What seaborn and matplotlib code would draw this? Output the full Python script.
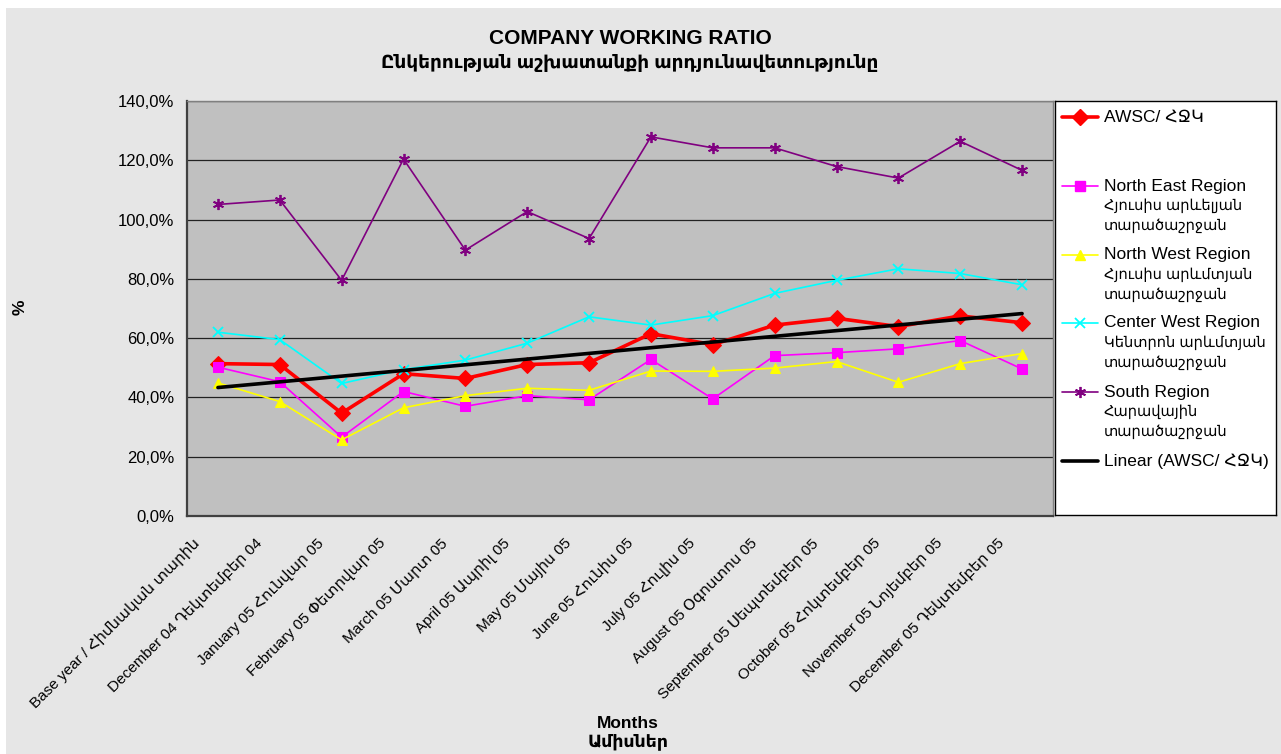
import numpy as np
import pandas as pd
import matplotlib
matplotlib.use("Agg")
import matplotlib.pyplot as plt
import seaborn as sns
from matplotlib.patches import Rectangle
from matplotlib.ticker import FuncFormatter, MultipleLocator, FixedLocator
from matplotlib.transforms import ScaledTranslation

MONTHS = [
    "Base year / Հիմնական տարին",
    "December 04 Դեկտեմբեր 04",
    "January 05 Հունվար 05",
    "February 05 Փետրվար 05",
    "March 05 Մարտ 05",
    "April 05 Ապրիլ 05",
    "May 05 Մայիս 05",
    "June 05 Հունիս 05",
    "July 05 Հուլիս 05",
    "August 05 Օգոստոս 05",
    "September 05 Սեպտեմբեր 05",
    "October 05 Հոկտեմբեր 05",
    "November 05 Նոյեմբեր 05",
    "December 05 Դեկտեմբեր 05",
]

AWSC = [51.4, 51.1, 34.7, 48.0, 46.4, 51.1, 51.7, 61.5, 57.8, 64.4, 66.7, 63.9, 67.5, 65.2]
NORTH_EAST = [50.2, 45.3, 26.6, 42.0, 37.0, 40.6, 39.2, 52.8, 39.5, 54.1, 55.1, 56.4, 59.2, 49.6]
NORTH_WEST = [44.9, 38.6, 25.7, 36.5, 40.6, 43.1, 42.4, 48.9, 48.8, 49.9, 52.1, 45.1, 51.4, 54.8]
CENTER_WEST = [62.0, 59.5, 44.7, 49.4, 52.6, 58.3, 67.2, 64.4, 67.6, 75.1, 79.5, 83.4, 81.8, 78.0]
SOUTH = [105.1, 106.6, 79.5, 120.4, 89.7, 102.7, 93.6, 127.9, 124.2, 124.2, 117.9, 114.0, 126.4, 116.6]

LEGEND_LINES = [
    ["AWSC/ ՀՋԿ"],
    ["North East Region", "Հյուսիս արևելյան", "տարածաշրջան"],
    ["North West Region", "Հյուսիս արևմտյան", "տարածաշրջան"],
    ["Center West Region", "Կենտրոն արևմտյան", "տարածաշրջան"],
    ["South Region", "Հարավային", "տարածաշրջան"],
    ["Linear (AWSC/ ՀՋԿ)"],
]

W, H = 1281, 754

sns.set_theme(style="white")
plt.rcParams["font.family"] = ["Liberation Sans", "DejaVu Sans"]
plt.rcParams.update({"text.color": "black", "axes.labelcolor": "black",
                     "xtick.color": "black", "ytick.color": "black"})

fig = plt.figure(figsize=(W / 100, H / 100), dpi=100, facecolor="white")
fig.add_artist(Rectangle((6 / W, 0), 1, 1 - 8 / H, transform=fig.transFigure,
                         facecolor="#e6e6e6", edgecolor="none", zorder=-5))

ax = fig.add_axes([187 / W, 1 - 516 / H, (1053 - 187) / W, (516 - 101) / H])
ax.set_facecolor("#c0c0c0")

pos = np.arange(len(MONTHS))
styles = [
    (AWSC, dict(color="#ff0000", marker="D", markersize=8.5, linewidth=2.6)),
    (NORTH_EAST, dict(color="#ff00ff", marker="s", markersize=6.5, linewidth=1.2)),
    (NORTH_WEST, dict(color="#ffff00", marker="^", markersize=7.5, linewidth=1.2)),
    (CENTER_WEST, dict(color="#00ffff", marker="x", markersize=7, markeredgewidth=1.3, linewidth=1.2)),
    (SOUTH, dict(color="#800080", marker=(6, 2, 0), markersize=8, markeredgewidth=1.3, linewidth=1.2)),
]
for vals, kw in styles:
    sns.lineplot(x=pos, y=vals, ax=ax, legend=False, markeredgecolor=kw["color"], **kw)

# linear trend of AWSC (like the Excel trendline)
coef = np.polyfit(pos + 1, AWSC, 1)
trend = np.polyval(coef, pos + 1)
sns.lineplot(x=pos, y=trend, ax=ax, color="black", linewidth=2.6, legend=False)

ax.set_xlim(-0.5, len(MONTHS) - 0.5)
ax.set_ylim(0, 140)
ax.yaxis.set_major_locator(MultipleLocator(20))
ax.yaxis.set_major_formatter(FuncFormatter(lambda v, p: f"{v:.1f}%".replace(".", ",")))
ax.grid(axis="y", color="#222222", linewidth=0.9)
ax.set_axisbelow(True)

ax.set_xticks(pos)
ax.set_xticklabels(MONTHS, rotation=45, ha="right", va="center", rotation_mode="anchor", fontsize=11)
ax.xaxis.set_minor_locator(FixedLocator(np.arange(-0.5, len(MONTHS), 1)))
ax.tick_params(axis="x", which="major", length=0, pad=18)
ax.tick_params(axis="x", which="minor", length=6, width=1, color="#333333", direction="out")
ax.tick_params(axis="y", length=6, width=1, color="#333333", direction="out", labelsize=12, pad=3)
offset = ScaledTranslation(-0.2, 0, fig.dpi_scale_trans)
for lab in ax.get_xticklabels():
    lab.set_transform(lab.get_transform() + offset)
    lab.set_color("black")
for lab in ax.get_yticklabels():
    lab.set_color("black")

for side in ["left", "bottom"]:
    ax.spines[side].set_color("#404040")
    ax.spines[side].set_linewidth(1.6)
for side in ["top", "right"]:
    ax.spines[side].set_color("#808080")
    ax.spines[side].set_linewidth(1.0)
ax.set_xlabel("")
ax.set_ylabel("")

fig.text(630 / W, 1 - 38 / H, "COMPANY WORKING RATIO", ha="center", va="center",
         fontsize=15, fontweight="bold")
fig.text(630 / W, 1 - 63 / H, "Ընկերության աշխատանքի արդյունավետությունը", ha="center",
         va="center", fontsize=13.3, fontweight="bold")
fig.text(20 / W, 1 - 307 / H, "%", ha="center", va="center", rotation=90,
         fontsize=12.5, fontweight="bold")
fig.text(628 / W, 1 - 733 / H, "Months\nԱմիսներ", ha="center", va="center",
         fontsize=12.5, fontweight="bold", linespacing=1.15)

# legend box drawn by hand so the handle sits on the first line of each label
lax = fig.add_axes([1055 / W, 1 - 515 / H, 221 / W, 414 / H])
lax.set_xlim(0, 221)
lax.set_ylim(414, 0)
lax.set_facecolor("white")
lax.set_xticks([])
lax.set_yticks([])
for sp in lax.spines.values():
    sp.set_color("black")
    sp.set_linewidth(1.0)

entry_y = [16, 85, 154, 222, 291, 360]
handles = [kw for _, kw in styles] + [dict(color="black", linewidth=2.6)]
for y0, lines, kw in zip(entry_y, LEGEND_LINES, handles):
    lax.plot([7, 43], [y0, y0], color=kw["color"], linewidth=kw["linewidth"])
    if "marker" in kw:
        lax.plot([25], [y0], linestyle="none", marker=kw["marker"], markersize=kw["markersize"],
                 color=kw["color"], markeredgecolor=kw["color"],
                 markeredgewidth=kw.get("markeredgewidth", 1.0))
    for i, line in enumerate(lines):
        size = 12.5 if i == 0 else 10.5
        lax.text(49, y0 + i * 19.7, line, ha="left", va="center", fontsize=size)

fig.savefig("out.png", dpi=100, facecolor=fig.get_facecolor())
